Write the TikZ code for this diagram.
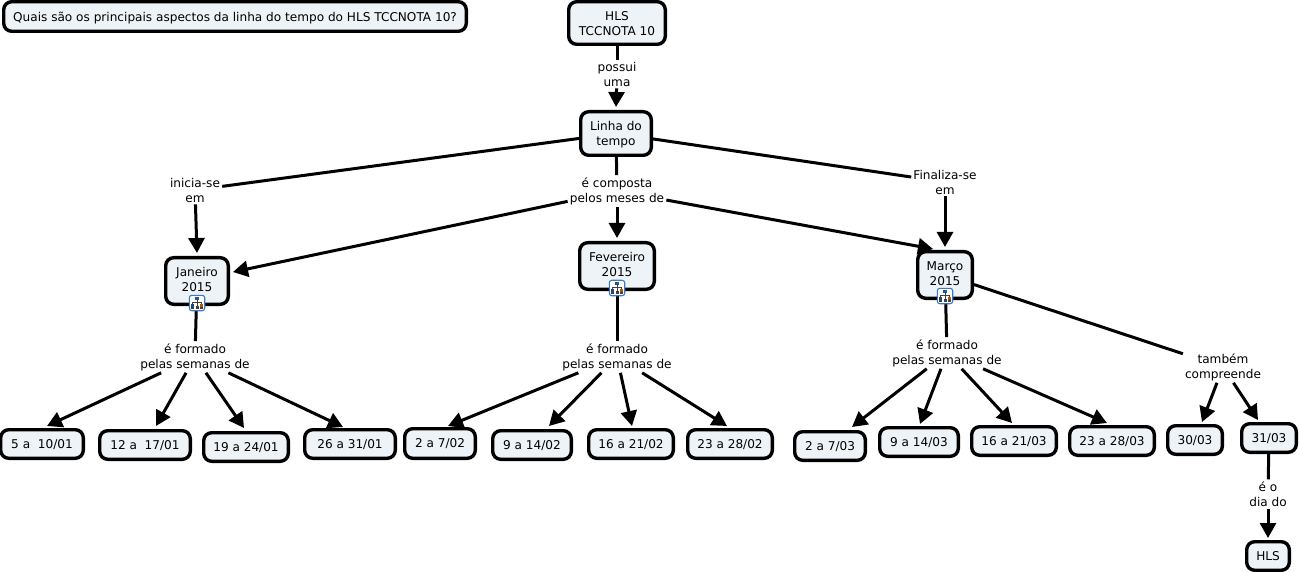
\documentclass[tikz,border=0pt]{standalone}
\usepackage{fontspec}
\setmainfont{DejaVu Sans}
\usetikzlibrary{arrows.meta,calc}
\definecolor{boxfill}{HTML}{EDF3F6}
\definecolor{iconblue}{HTML}{3C78C8}
\tikzset{
  concept/.style={draw=black,fill=boxfill,line width=3.4pt,rounded corners=8pt,align=center,font=\fontsize{12.1}{15}\selectfont,inner sep=0pt,text depth=0pt},
  linklabel/.style={align=center,font=\fontsize{12.1}{15}\selectfont,inner sep=2pt},
  conn/.style={line width=3pt,draw=black},
  arr/.style={conn,-{Triangle[length=15pt,width=16pt]}},
}
\newcommand{\cbox}[6]{% name, x0,y0,x1,y1,text
  \node[concept,minimum width=#4pt-#2pt-1.4pt,minimum height=#5pt-#3pt-1.4pt] (#1) at ({(#2+#4)/2},{(#3+#5)/2}) {#6};}
\newcommand{\up}[1]{\raisebox{3pt}{#1}}
\newcommand{\wire}[7]{% from, dx, dy, to+anchor, tx, ty
  \draw[arr] ([shift={(#2,#3)}]#1) -- ([shift={(#5,#6)}]#4.#7);}
\newcommand{\treeicon}[2]{%
  \begin{scope}[shift={(#1,#2)}]
    \draw[iconblue,fill=white,line width=1.1pt,rounded corners=2.5pt] (-7.7,-7.7) rectangle (7.7,7.7);
    \draw[black!75,line width=.8pt] (0,-3) -- (0,-1) (-4.5,1) -- (-4.5,-1) -- (4.5,-1) -- (4.5,1) (0,-1)--(0,3);
    \fill[iconblue!70!black] (-2.2,-6) rectangle (2.2,-3);
    \fill[iconblue!60!black] (-6,0.5) rectangle (-3,3.5);
    \fill[black!75] (-6,3.5) rectangle (-3,6);
    \fill[black!75] (-1.5,3) rectangle (1.5,6);
    \fill[orange!70!black] (3,0.5) rectangle (6,3.5);
    \fill[black!75] (3,3.5) rectangle (6,6);
  \end{scope}}
\begin{document}
\begin{tikzpicture}[x=1pt,y=-1pt]
\useasboundingbox (0,0) rectangle (1299,572);
\cbox{q}{3}{1}{467}{32}{Quais são os principais aspectos da linha do tempo do HLS TCCNOTA 10?}
\cbox{hls}{568}{1}{666}{45}{\raisebox{-1pt}{HLS}\\\raisebox{-1pt}{TCCNOTA 10}}
\cbox{linha}{580}{111}{652}{156}{Linha do\\tempo}
\cbox{jan}{165}{257}{229}{305}{\up{Janeiro}\\\up{2015}}
\cbox{fev}{579}{242}{655}{290}{\up{Fevereiro}\\\up{2015}}
\cbox{mar}{917}{251}{973}{299}{\up{Março}\\\up{2015}}
\cbox{ja}{0}{429}{84}{459}{5 a~~10/01}
\cbox{jb}{99}{430}{191}{460}{12 a~~17/01}
\cbox{jc}{203}{432}{289}{462}{19 a 24/01}
\cbox{jd}{304}{429}{396}{459}{26 a 31/01}
\cbox{fa}{404}{428}{476}{459}{2 a 7/02}
\cbox{fb}{492}{430}{572}{460}{9 a 14/02}
\cbox{fc}{588}{429}{674}{459}{16 a 21/02}
\cbox{fd}{687}{429}{773}{459}{23 a 28/02}
\cbox{ma}{794}{431}{866}{461}{2 a 7/03}
\cbox{mb}{879}{427}{959}{457}{9 a 14/03}
\cbox{mc}{971}{426}{1057}{456}{16 a 21/03}
\cbox{md}{1069}{426}{1155}{456}{23 a 28/03}
\cbox{d30}{1167}{425}{1223}{455}{30/03}
\cbox{d31}{1241}{423}{1297}{453}{31/03}
\cbox{dh}{1246}{541}{1290}{571}{HLS}
\node[linklabel] (lp) at (617,74) {possui\\uma};
\node[linklabel] (lc) at (617,191) {é composta\\pelos meses de};
\node[linklabel] (li) at (195,190) {inicia-se\\em};
\node[linklabel] (lf) at (945,182) {Finaliza-se\\em};
\node[linklabel] (lj) at (195,357) {é formado\\pelas semanas de};
\node[linklabel] (lv) at (617,357) {é formado\\pelas semanas de};
\node[linklabel] (lm) at (947,353) {é formado\\pelas semanas de};
\node[linklabel] (lt) at (1223,367) {também\\compreende};
\node[linklabel] (ld) at (1268,494) {é o\\dia do};
% connectors
\draw[conn] (hls) -- (lp);
\wire{lp}{0}{16}{linha}{0}{-3}{north}
\draw[conn] (linha) -- (li);
\draw[conn] (linha) -- (lc);
\draw[conn] (linha) -- (lf);
\wire{li}{2}{15}{jan}{0}{-3}{north}
\wire{lc}{-50}{10}{jan}{3}{-9}{east}
\wire{lc}{0}{16}{fev}{0}{-3}{north}
\wire{lc}{50}{8}{mar}{-12}{-1}{north}
\wire{lf}{0}{15}{mar}{0}{-3}{north}
\draw[conn] (jan) -- (lj);
\draw[conn] (fev) -- (lv);
\draw[conn] (mar) -- (lm);
\draw[conn] (mar) -- (lt);
\wire{lj}{-38}{18}{ja}{5}{-2}{north}
\wire{lj}{-10}{18}{jb}{11}{-3}{north}
\wire{lj}{12}{17}{jc}{-2}{-3}{north}
\wire{lj}{37}{18}{jd}{-7}{-1}{north}
\wire{lv}{-42}{17}{fa}{8}{-1}{north}
\wire{lv}{-15}{17}{fb}{17}{-3}{north}
\wire{lv}{3}{17}{fc}{1}{-2}{north}
\wire{lv}{26}{17}{fd}{-3}{-2}{north}
\wire{lm}{-20}{17}{ma}{22}{-3}{north}
\wire{lm}{-7}{17}{mb}{1}{-2}{north}
\wire{lm}{16}{17}{mc}{-2}{-2}{north}
\wire{lm}{40}{17}{md}{-5}{-2}{north}
\wire{lt}{-6}{16}{d30}{7}{-2}{north}
\wire{lt}{12}{16}{d31}{-11}{-2}{north}
\draw[conn] (d31) -- (ld);
\wire{ld}{0}{14}{dh}{0}{-2}{north}
\treeicon{197}{303}
\treeicon{617}{288}
\treeicon{945}{296}
\end{tikzpicture}
\end{document}
